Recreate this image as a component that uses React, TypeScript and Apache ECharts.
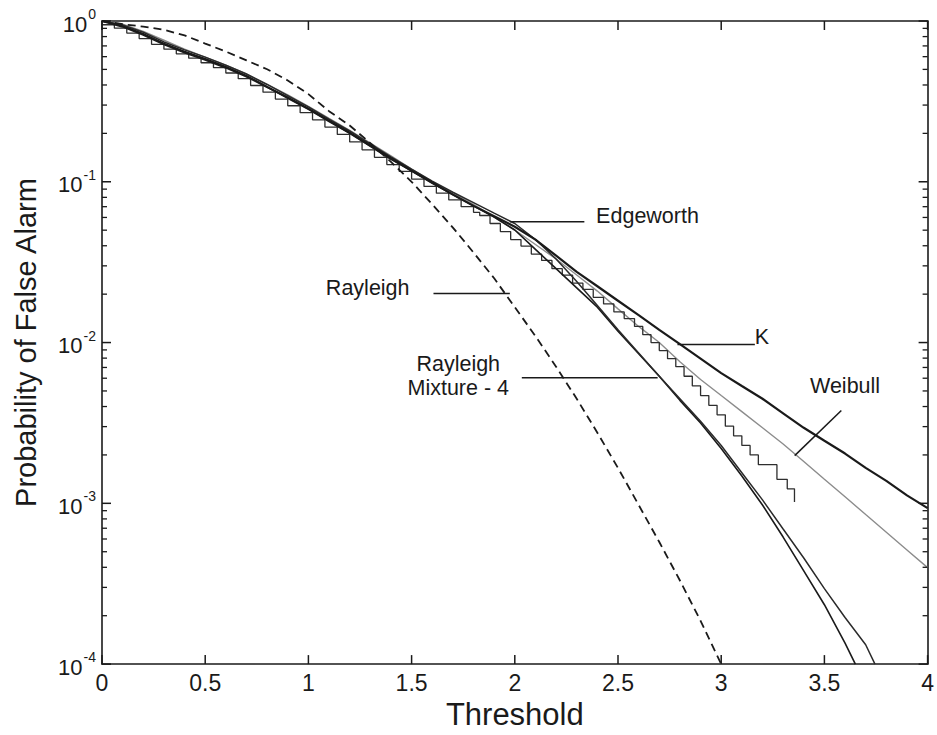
import React, { useEffect, useRef } from "react";
import * as echarts from "echarts";

// ---------- data ----------
const xTickLabels = ["0", "0.5", "1", "1.5", "2", "2.5", "3", "3.5", "4"];
const xTickValues = [0, 0.5, 1, 1.5, 2, 2.5, 3, 3.5, 4];
const yTickValues = [1, 0.1, 0.01, 0.001, 0.0001];
const yTickExps = ["0", "-1", "-2", "-3", "-4"];

const gridX = [0, 0.1, 0.2, 0.3, 0.4, 0.5, 0.6, 0.7, 0.8, 0.9, 1.0, 1.1, 1.2, 1.3, 1.4, 1.5, 1.6, 1.7, 1.8, 1.9, 2.0,
  2.1, 2.2, 2.3, 2.4, 2.5, 2.6, 2.7, 2.8, 2.9, 3.0, 3.1, 3.2, 3.3, 3.4, 3.5, 3.6, 3.7, 3.8, 3.9, 4.0];

const kP = [1, 0.923, 0.822, 0.716, 0.638, 0.575, 0.513, 0.452, 0.389, 0.335, 0.285, 0.24, 0.202, 0.168, 0.14, 0.117,
  0.0989, 0.0832, 0.0708, 0.061, 0.0525, 0.0437, 0.0347, 0.0275, 0.0224, 0.0182, 0.0148, 0.012, 0.00977, 0.00794,
  0.00646, 0.00537, 0.00447, 0.00363, 0.00295, 0.00245, 0.00204, 0.00166, 0.00138, 0.00112, 0.000933];

const weibullP = [1, 0.955, 0.861, 0.759, 0.668, 0.596, 0.531, 0.468, 0.403, 0.347, 0.295, 0.248, 0.209, 0.174, 0.145,
  0.12, 0.1, 0.0851, 0.0724, 0.0603, 0.0501, 0.0407, 0.0331, 0.0263, 0.0209, 0.0162, 0.0126, 0.01, 0.00759, 0.00589,
  0.00468, 0.00372, 0.00295, 0.00234, 0.00182, 0.00141, 0.0011, 0.000851, 0.000661, 0.000513, 0.000398];

const mixtureX = [0, 0.1, 0.2, 0.3, 0.4, 0.5, 0.6, 0.7, 0.8, 0.9, 1.0, 1.1, 1.2, 1.3, 1.4, 1.5, 1.6, 1.7, 1.8, 1.9, 2.0,
  2.1, 2.2, 2.3, 2.4, 2.5, 2.6, 2.7, 2.8, 2.9, 3.0, 3.1, 3.2, 3.3, 3.4, 3.5, 3.6, 3.65];
const mixtureP = [1, 0.933, 0.832, 0.724, 0.646, 0.582, 0.519, 0.457, 0.389, 0.331, 0.282, 0.237, 0.2, 0.166, 0.138,
  0.117, 0.0977, 0.0832, 0.0708, 0.0603, 0.0501, 0.038, 0.0288, 0.0219, 0.0166, 0.01175, 0.00851, 0.00617, 0.00437,
  0.00316, 0.00219, 0.00148, 0.000977, 0.000617, 0.00038, 0.000234, 0.000135, 0.0001];

const edgeworthX = [0, 0.1, 0.2, 0.3, 0.4, 0.5, 0.6, 0.7, 0.8, 0.9, 1.0, 1.1, 1.2, 1.3, 1.4, 1.5, 1.6, 1.7, 1.8, 1.9, 2.0,
  2.1, 2.2, 2.3, 2.4, 2.5, 2.6, 2.7, 2.8, 2.9, 3.0, 3.1, 3.2, 3.3, 3.4, 3.5, 3.6, 3.7, 3.745];
const edgeworthP = [1, 0.944, 0.851, 0.741, 0.661, 0.596, 0.531, 0.468, 0.403, 0.343, 0.292, 0.245, 0.207, 0.172, 0.143,
  0.12, 0.101, 0.0861, 0.0741, 0.0638, 0.055, 0.0437, 0.0331, 0.024, 0.017, 0.012, 0.00861, 0.00617, 0.00447, 0.00324,
  0.00229, 0.00155, 0.00105, 0.000692, 0.000457, 0.000295, 0.000195, 0.000132, 0.0001];

const rayleighX = [0, 0.1, 0.2, 0.3, 0.4, 0.5, 0.6, 0.7, 0.8, 0.9, 1.0, 1.1, 1.2, 1.3, 1.4, 1.5, 1.6, 1.7, 1.8, 1.9, 2.0,
  2.1, 2.2, 2.3, 2.4, 2.5, 2.6, 2.7, 2.8, 2.9, 3.0];
const rayleighP = [1, 0.955, 0.923, 0.881, 0.813, 0.724, 0.646, 0.569, 0.501, 0.427, 0.351, 0.275, 0.224, 0.174, 0.133,
  0.1, 0.0724, 0.0519, 0.0363, 0.0251, 0.0166, 0.01096, 0.00708, 0.00447, 0.00275, 0.00166, 0.000977, 0.000575,
  0.000331, 0.000186, 0.0001];

const measuredX = [0, 0.06, 0.12, 0.18, 0.24, 0.3, 0.36, 0.42, 0.48, 0.54, 0.6, 0.66, 0.72, 0.78, 0.84, 0.9, 0.96,
  1.02, 1.08, 1.14, 1.2, 1.26, 1.32, 1.38, 1.44, 1.5, 1.56, 1.62, 1.68, 1.74, 1.8,
  1.83, 1.88, 1.93, 1.98, 2.03, 2.08, 2.13, 2.18, 2.23, 2.28, 2.33, 2.38, 2.43, 2.48, 2.53, 2.58, 2.62, 2.66, 2.7, 2.74,
  2.78, 2.82, 2.86, 2.9, 2.94, 2.98, 3.02, 3.06, 3.1, 3.14, 3.18, 3.27, 3.32, 3.355];
const measuredP = [0.948, 0.902, 0.841, 0.778, 0.716, 0.668, 0.625, 0.587, 0.55, 0.513, 0.475, 0.438, 0.397, 0.361,
  0.327, 0.297, 0.269, 0.243, 0.219, 0.197, 0.177, 0.158, 0.142, 0.128, 0.116, 0.104, 0.0935, 0.0849, 0.0771, 0.07,
  0.0646,
  0.0617, 0.055, 0.049, 0.0437, 0.0398, 0.0355, 0.0324, 0.0288, 0.0263, 0.0234, 0.0214, 0.0191, 0.0174, 0.0155, 0.0141,
  0.0126, 0.0112, 0.01, 0.00891, 0.00794, 0.00708, 0.00617, 0.00537, 0.00468, 0.00407, 0.00355, 0.00302, 0.00263,
  0.00229, 0.002, 0.00174, 0.00141, 0.00123, 0.00102];

// annotation layout (data coordinates)
const annotations = [
  { from: [1.976, 0.0565], to: [2.337, 0.0565], texts: [{ text: "Edgeworth", at: [2.394, 0.0615], align: "left" }] },
  { from: [1.606, 0.0202], to: [1.976, 0.0202], texts: [{ text: "Rayleigh", at: [1.49, 0.0217], align: "right" }] },
  {
    from: [2.034, 0.00603], to: [2.692, 0.00603],
    texts: [
      { text: "Rayleigh", at: [1.726, 0.00733], align: "center" },
      { text: "Mixture - 4", at: [1.726, 0.00523], align: "center" },
    ],
  },
  { from: [2.788, 0.00972], to: [3.163, 0.00972], texts: [{ text: "K", at: [3.163, 0.0108], align: "left" }] },
  { from: [3.356, 0.00198], to: [3.582, 0.00378], texts: [{ text: "Weibull", at: [3.6, 0.00538], align: "center" }] },
];

const FONT = '"Liberation Sans", Arial, Helvetica, sans-serif';
const INK = "#1a1a1a";

const zip = (xs: number[], ps: number[]) => xs.map((x, i) => [x, ps[i]]);

export default function App() {
  const ref = useRef<HTMLDivElement>(null);

  useEffect(() => {
    if (!ref.current) return;
    const chart = echarts.init(ref.current, undefined, { renderer: "svg" });

    const minorValues: number[] = [];
    [0.0001, 0.001, 0.01, 0.1].forEach((d) => {
      [2, 3, 4, 5, 6, 7, 8, 9].forEach((m) => minorValues.push(d * m));
    });

    const lineBase = (name: string, data: number[][], style: any, z = 2, extra: any = {}) => ({
      name,
      type: "line",
      data,
      showSymbol: false,
      symbol: "none",
      silent: true,
      z,
      lineStyle: style,
      ...extra,
    });

    const mkAxisLine = () => ({ show: true, onZero: false, lineStyle: { color: INK, width: 1.6 } });

    const option: any = {
      animation: false,
      backgroundColor: "#ffffff",
      grid: { left: 102, right: 3, top: 21, bottom: 60, containLabel: false },
      xAxis: [
        {
          type: "value",
          min: 0,
          max: 4,
          interval: 0.5,
          position: "bottom",
          name: "Threshold",
          nameLocation: "middle",
          nameGap: 31,
          nameTextStyle: { fontSize: 31, color: INK, fontFamily: FONT, verticalAlign: "top" },
          axisLine: mkAxisLine(),
          axisTick: { show: false },
          axisLabel: {
            show: true,
            margin: 7,
            fontSize: 23,
            color: INK,
            fontFamily: FONT,
            formatter: (v: number) => xTickLabels[Math.round(v / 0.5)] ?? "",
          },
          splitLine: { show: false },
        },
        {
          type: "value",
          min: 0,
          max: 4,
          interval: 0.5,
          position: "top",
          axisLine: mkAxisLine(),
          axisTick: { show: false },
          axisLabel: { show: false },
          splitLine: { show: false },
        },
      ],
      yAxis: [
        {
          type: "log",
          logBase: 10,
          min: 0.0001,
          max: 1,
          position: "left",
          name: "Probability of False Alarm",
          nameLocation: "middle",
          nameGap: 62,
          nameRotate: 90,
          nameTextStyle: { fontSize: 29, color: INK, fontFamily: FONT },
          axisLine: mkAxisLine(),
          axisTick: { show: false },
          axisLabel: {
            show: true,
            margin: 6,
            color: INK,
            fontFamily: FONT,
            formatter: (v: number) => {
              let idx = 0;
              let best = Infinity;
              yTickValues.forEach((t, i) => {
                const d = Math.abs(Math.log10(t) - Math.log10(v));
                if (d < best) { best = d; idx = i; }
              });
              return "{b|10}{s|" + yTickExps[idx] + "}";
            },
            rich: {
              b: { fontSize: 22, fontFamily: FONT, color: INK, lineHeight: 28, verticalAlign: "bottom" },
              s: { fontSize: 14, fontFamily: FONT, color: INK, lineHeight: 14, verticalAlign: "top", padding: [0, 0, 0, 1] },
            },
          },
          splitLine: { show: false },
        },
        {
          type: "log",
          logBase: 10,
          min: 0.0001,
          max: 1,
          position: "right",
          axisLine: mkAxisLine(),
          axisTick: { show: false },
          axisLabel: { show: false },
          splitLine: { show: false },
        },
      ],
      series: [
        lineBase("Weibull", zip(gridX, weibullP), { color: "#8c8c8c", width: 1.4 }, 1),
        lineBase("Measured", zip(measuredX, measuredP), { color: "#2e2e2e", width: 1.3 }, 2, { step: "end" }),
        lineBase("Rayleigh Mixture - 4", zip(mixtureX, mixtureP), { color: INK, width: 1.6 }, 3),
        lineBase("Edgeworth", zip(edgeworthX, edgeworthP), { color: "#2a2a2a", width: 1.5 }, 3),
        lineBase("K", zip(gridX, kP), { color: INK, width: 2.2 }, 4),
        lineBase("Rayleigh", zip(rayleighX, rayleighP), { color: INK, width: 1.8, type: [8, 5] }, 4),
        {
          type: "custom",
          name: "overlay",
          silent: true,
          clip: false,
          z: 10,
          data: [[0, 1]],
          renderItem: (_p: any, api: any) => {
            const children: any[] = [];
            const seg = (x1: number, y1: number, x2: number, y2: number, w: number) => {
              children.push({ type: "line", shape: { x1, y1, x2, y2 }, style: { stroke: INK, lineWidth: w } });
            };
            // frame ticks (inside), minor ticks at 2..9 of each decade
            minorValues.forEach((v) => {
              const l = api.coord([0, v]);
              const r = api.coord([4, v]);
              seg(l[0], l[1], l[0] + 5, l[1], 1.3);
              seg(r[0], r[1], r[0] - 5, r[1], 1.3);
            });
            yTickValues.forEach((v) => {
              const l = api.coord([0, v]);
              const r = api.coord([4, v]);
              seg(l[0], l[1], l[0] + 9, l[1], 1.5);
              seg(r[0], r[1], r[0] - 9, r[1], 1.5);
            });
            xTickValues.forEach((x) => {
              const b = api.coord([x, 0.0001]);
              const t = api.coord([x, 1]);
              seg(b[0], b[1], b[0], b[1] - 9, 1.5);
              seg(t[0], t[1], t[0], t[1] + 9, 1.5);
            });
            // annotations with leader lines
            annotations.forEach((a) => {
              const p1 = api.coord(a.from);
              const p2 = api.coord(a.to);
              seg(p1[0], p1[1], p2[0], p2[1], 1.5);
              a.texts.forEach((t) => {
                const c = api.coord(t.at);
                children.push({
                  type: "text",
                  x: c[0],
                  y: c[1],
                  style: {
                    text: t.text,
                    fill: INK,
                    font: "21.5px " + FONT,
                    align: t.align,
                    verticalAlign: "middle",
                    textAlign: t.align,
                    textVerticalAlign: "middle",
                  },
                });
              });
            });
            return { type: "group", children };
          },
        },
      ],
    };

    chart.setOption(option);
    return () => chart.dispose();
  }, []);

  return (
    <div
      ref={ref}
      style={{ position: "fixed", left: 0, top: 0, width: 937, height: 735, background: "#fff" }}
    />
  );
}
